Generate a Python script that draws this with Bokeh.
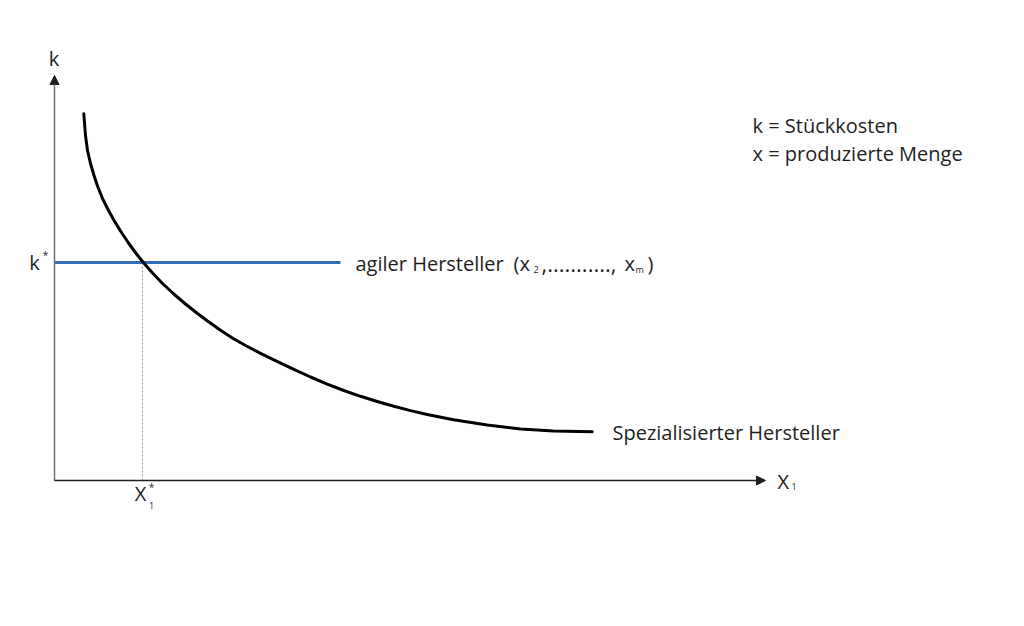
from bokeh.plotting import figure
from bokeh.models import Range1d, Arrow, NormalHead
from bokeh.core.properties import value
from bokeh.embed import file_html
from bokeh.resources import INLINE

# ---- data (abstract units) ----
curve_x = [29.3, 31, 33, 36, 39.5, 43, 48, 53, 59, 66, 74, 82, 89.3, 98, 108, 119.3,
           131, 143, 153, 166, 179, 192, 206, 223, 239.3, 256, 272.7, 289.3, 306,
           322.7, 339.3, 356, 372.7, 399, 432.7, 466, 499, 537.7]
curve_y = [366.7, 345, 330, 317, 305, 294.5, 282, 272, 261, 249.5, 237.5, 226.5,
           217.5, 207.5, 197, 186.5, 176.5, 167, 159.5, 150.2, 141.8, 134.5, 127.2,
           118.8, 111.1, 103.5, 96.4, 90, 84.2, 79, 74.2, 69.9, 66, 60.7, 55.4, 51.6,
           49.5, 48.7]
k_star = 218
x1_star = 88
agile_end = 286
x_axis_end = 711
y_axis_end = 405

FONT = "Open Sans"
TXT = "#1e1e1e"
BLUE = "#2F6EB5"

p = figure(width=1008, height=610, output_backend="svg", toolbar_location=None,
           x_range=Range1d(-54, 954), y_range=Range1d(-130, 480),
           min_border=0, outline_line_color=None)
p.axis.visible = False
p.grid.visible = False
p.background_fill_color = "white"
p.border_fill_color = "white"

# axes with arrows
p.add_layout(Arrow(x_start=0, y_start=0, x_end=0, y_end=y_axis_end,
                   line_color="#707070", line_width=1.5,
                   end=NormalHead(size=9, fill_color="#1e1e1e", line_color="#1e1e1e")))
p.add_layout(Arrow(x_start=0, y_start=0, x_end=x_axis_end, y_end=0,
                   line_color="#1e1e1e", line_width=1.5,
                   end=NormalHead(size=9, fill_color="#1e1e1e", line_color="#1e1e1e")))

# dotted guide
p.segment(x0=[x1_star], y0=[0], x1=[x1_star], y1=[k_star], line_color="#9a9a9a",
          line_width=1, line_dash="2 2")

# agile manufacturer (horizontal)
p.line([0, agile_end], [k_star, k_star], line_color=BLUE, line_width=3)

# specialised manufacturer curve
p.line(curve_x, curve_y, line_color="black", line_width=3, line_join="round", line_cap="round")

def t(x, y, s, size=20, align="left", baseline="middle"):
    p.text(x=[x], y=[y], text=[s], text_font=value(FONT), text_font_size=f"{size}px",
           text_color=TXT, text_align=align, text_baseline=baseline)

# axis labels
t(-0.5, 422, "k", align="center")
t(-20, 218, "k", align="center")
t(-9, 226, "*", size=10, align="center")
t(86, -13, "X", align="center")
t(97, -6, "*", size=10, align="center")
t(97, -25, "1", size=9, align="center")
t(723, -1, "X")
t(737, -6, "1", size=9)

# series labels
t(301, 217, "agiler Hersteller")
t(459, 217, "(x")
t(479, 211, "2", size=9)
t(487, 217, ",...........,", size=22)
t(570, 217, "x")
t(581, 211, "m", size=9)
t(593, 217, ")")
t(558, 48, "Spezialisierter Hersteller")

# legend text
t(698, 355, "k = Stückkosten")
t(698, 327.5, "x = produzierte Menge")

open("out.html", "w").write(file_html(p, INLINE))
